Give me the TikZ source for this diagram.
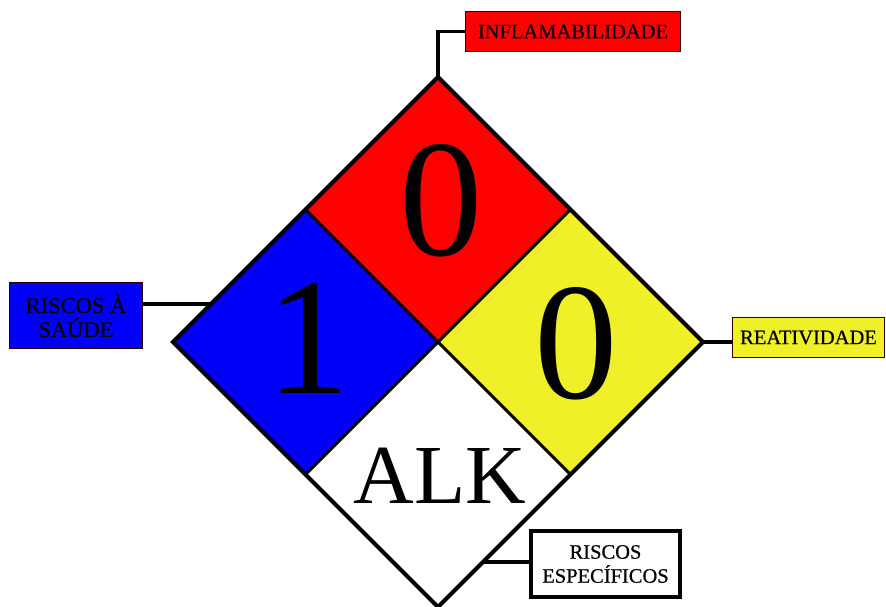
\documentclass[tikz,border=0pt]{standalone}
\usepackage{fontspec}
\setmainfont{Liberation Serif}
\newfontfamily\labelfont[FakeBold=0.6]{Liberation Serif}
\usetikzlibrary{calc}
\definecolor{nred}{RGB}{255,0,0}
\definecolor{nblue}{RGB}{0,0,250}
\definecolor{nyellow}{RGB}{240,240,40}
\tikzset{
  edge/.style={draw=black,line width=4pt,line join=miter},
  divider/.style={draw=black,line width=3pt},
  link/.style={draw=black,line width=3.5pt},
  bignum/.style={anchor=base,inner sep=0pt,font=\fontsize{167}{167}\selectfont},
  label/.style={inner sep=0pt,align=center,font=\labelfont\fontsize{20.5}{24}\selectfont},
  thinbox/.style={label,draw=black!80!red,line width=1.5pt},
}
\begin{document}
\begin{tikzpicture}[x=1pt,y=-1pt]
\useasboundingbox (0,0) rectangle (886,606);
% diamond vertices
\coordinate (C) at (438,342);
\coordinate (T) at (438,77);
\coordinate (L) at (173,342);
\coordinate (R) at (703,342);
\coordinate (B) at (438,607);
\coordinate (TL) at ($(T)!0.5!(L)$);
\coordinate (TR) at ($(T)!0.5!(R)$);
\coordinate (BL) at ($(B)!0.5!(L)$);
\coordinate (BR) at ($(B)!0.5!(R)$);
% quadrants
\fill[nred] (T) -- (TR) -- (C) -- (TL) -- cycle;
\fill[nblue] (L) -- (TL) -- (C) -- (BL) -- cycle;
\fill[nyellow] (R) -- (TR) -- (C) -- (BR) -- cycle;
\fill[white] (B) -- (BL) -- (C) -- (BR) -- cycle;
\draw[divider] (TL) -- (BR);
\draw[divider] (TR) -- (BL);
\draw[edge] (T) -- (R) -- (B) -- (L) -- cycle;
% numbers
\node[bignum] (flamnum) at (441,255) {0};
\node[bignum] (healthnum) at (308,393) {1};
\node[bignum] (reactnum) at (576,398) {0};
\node[anchor=base,inner sep=0pt,font=\fontsize{84}{84}\selectfont] (special) at (440,503) {ALK};
% label boxes
\node[thinbox,fill=nred,minimum width=215pt,minimum height=40pt] (flam) at (573,31.5) {INFLAMABILIDADE};
\node[thinbox,fill=nblue,minimum width=133pt,minimum height=66pt,font=\labelfont\fontsize{22.5}{24}\selectfont] (health) at (76,315.5) {RISCOS À\\SAÚDE};
\node[thinbox,fill=nyellow,minimum width=152pt,minimum height=40pt] (react) at (808.5,337.5) {REATIVIDADE};
\node[label,draw=black,line width=4pt,fill=white,minimum width=149pt,minimum height=66pt] (spec) at (605.5,564) {RISCOS\\ESPECÍFICOS};
% connectors
\coordinate (hpt) at ($(L)!0.143!(T)$);
\coordinate (spt) at ($(R)!0.83!(B)$);
\draw[link] (T) |- (flam.west);
\draw[link] (health.east |- hpt) -- (hpt);
\draw[link] (R) -- (R -| react.west);
\draw[link] (spt) -- (spt -| spec.west);
\end{tikzpicture}
\end{document}
